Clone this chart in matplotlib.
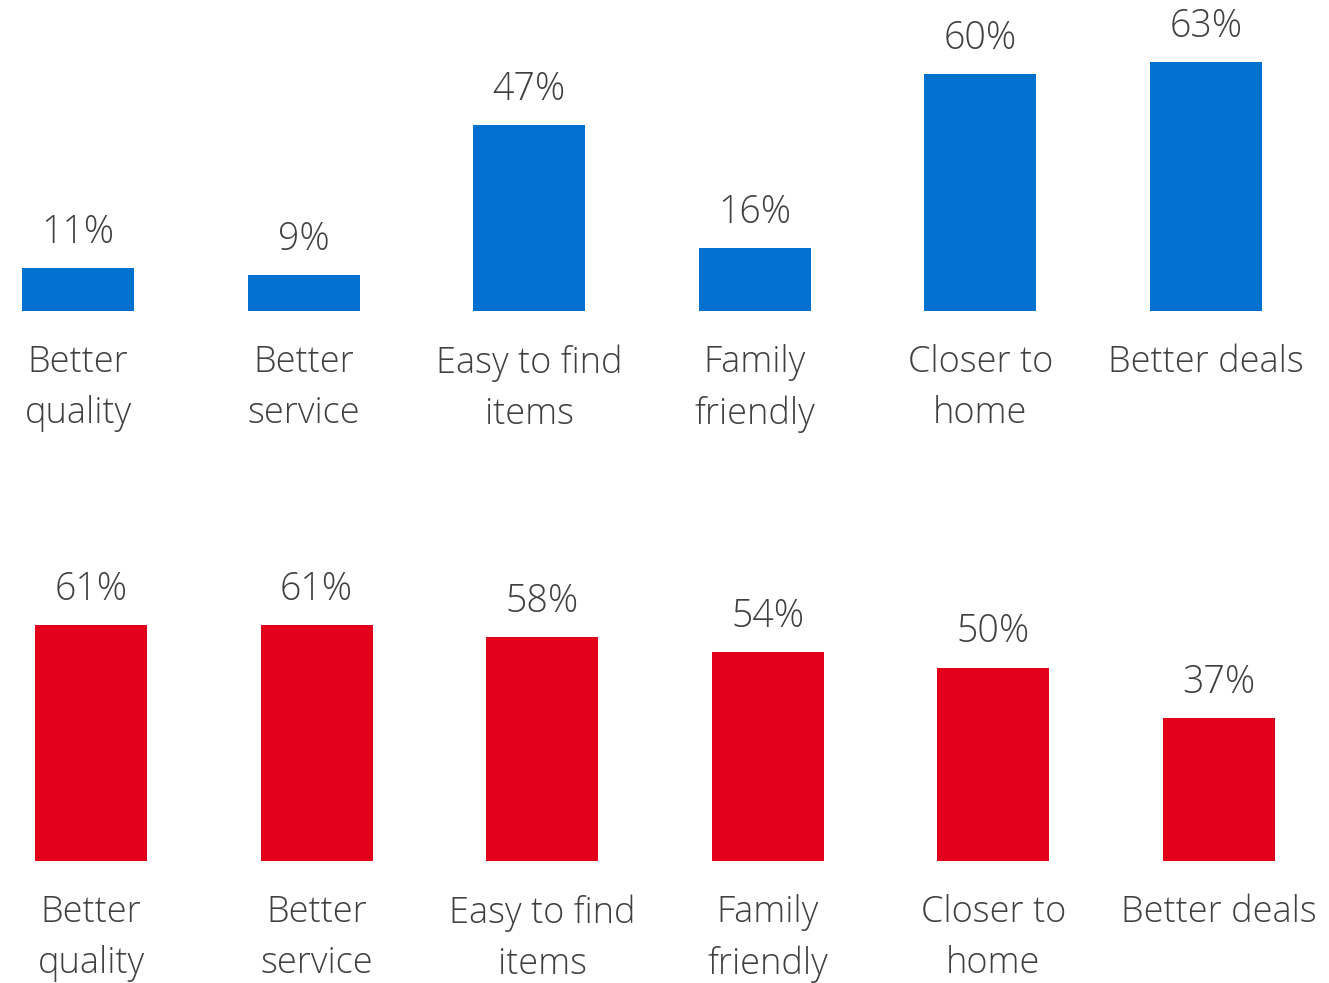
import matplotlib
matplotlib.use("Agg")
import matplotlib.pyplot as plt

# Share of respondents by reason, two groups
CATEGORIES = ["Better\nquality", "Better\nservice", "Easy to find\nitems",
              "Family\nfriendly", "Closer to\nhome", "Better deals"]
TOP_VALUES = [11, 9, 47, 16, 60, 63]
BOTTOM_VALUES = [61, 61, 58, 54, 50, 37]

BLUE = "#0071CE"
RED = "#E2001A"
TEXT = "#404040"

plt.rcParams["font.family"] = ["Open Sans", "DejaVu Sans"]
plt.rcParams["font.weight"] = "light"

W, H = 1329, 983
fig = plt.figure(figsize=(W / 100, H / 100), dpi=100)


def panel(bottom_px, height_px, first_center_px, step_px, px_per_unit, values, color):
    # axes spanning the full width; limits chosen so bars land on the pixel grid
    ax = fig.add_axes([0, bottom_px / H, 1, height_px / H])
    x0 = -first_center_px / step_px
    ax.set_xlim(x0, x0 + W / step_px)
    ax.set_ylim(0, height_px / px_per_unit)
    xs = range(len(values))
    ax.bar(xs, values, width=112 / step_px, color=color, zorder=2)
    for x, v in zip(xs, values):
        ax.annotate(f"{v}%", (x, v), xytext=(0, 18), textcoords="offset points",
                    ha="center", va="baseline", fontsize=27, color=TEXT)
    for x, label in zip(xs, CATEGORIES):
        ax.annotate(label, (x, 0), xytext=(0, -24), textcoords="offset points",
                    ha="center", va="top", fontsize=26, color=TEXT,
                    linespacing=1.5)
    ax.axis("off")
    return ax


panel(H - 311, 311, 78, 225.6, 3.95, TOP_VALUES, BLUE)
panel(H - 861, 361, 91, 225.6, 3.87, BOTTOM_VALUES, RED)

fig.savefig("out.png", dpi=100)
